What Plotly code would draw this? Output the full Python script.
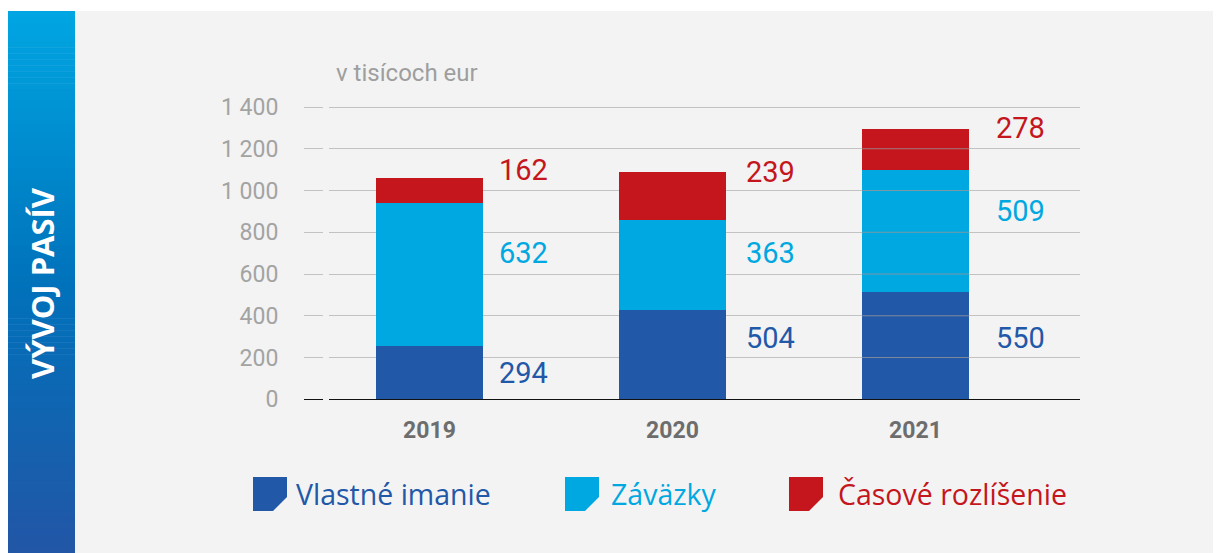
import plotly.graph_objects as go

# ---------------- data ----------------
years = ["2019", "2020", "2021"]
series_names = ["Vlastné imanie", "Záväzky", "Časové rozlíšenie"]
# bar segment heights as drawn (v tisícoch eur)
vlastne_imanie = [255, 428, 514]
zavazky = [685, 431, 584]
casove_rozlisenie = [120, 230, 196]
# value labels printed next to the bars
label_vlastne = ["294", "504", "550"]
label_zavazky = ["632", "363", "509"]
label_casove = ["162", "239", "278"]
y_tick_values = [0, 200, 400, 600, 800, 1000, 1200, 1400]
y_tick_labels = ["0", "200", "400", "600", "800", "1 000", "1 200", "1 400"]
unit_label = "v tisícoch eur"
side_title = "VÝVOJ PASÍV"

# ---------------- styles / layout ----------------
OFF = 8                      # page body margin
W, H = 1221 - OFF, 553 - OFF
BLUE = "#2258A8"
CYAN = "#00A8E1"
RED = "#C4161C"
PANEL = "#F3F3F3"
colors = [BLUE, CYAN, RED]

def px(x):
    return (x - OFF) / W

def py(y):
    return 1 - (y - OFF) / H

# pixel geometry of plot area (page pixels)
plot_left, plot_right = 304, 1080
zero_px, top_px = 399.3, 100
px_per_unit = (399.3 - 107) / 1400.0
ymax = (zero_px - top_px) / px_per_unit
first_center, spacing = 429.5, 243.0
x_lo = (plot_left - first_center) / spacing
x_hi = (plot_right - first_center) / spacing
bar_w = 107 / spacing

# label placement (data-unit y of label centres, pixel x offset from bar centre)
label_y_vlastne = [126, 292, 292]
label_y_zavazky = [700, 700, 903]
label_y_casove = [1097, 1090, 1300]
label_dx = [67, 71, 78]

fig = go.Figure()
for name, vals, col in zip(series_names, [vlastne_imanie, zavazky, casove_rozlisenie], colors):
    fig.add_trace(go.Bar(
        x=years, y=vals, name=name, marker=dict(color=col, line=dict(width=0)),
        width=bar_w, showlegend=False, hoverinfo="x+y+name",
    ))

shapes = []
# panel background
shapes.append(dict(type="rect", xref="paper", yref="paper", x0=px(75), x1=1.0,
                   y0=0, y1=py(11), fillcolor=PANEL, line=dict(width=0), layer="below"))
# sidebar gradient (strips)
stops = [(0.0, (0, 166, 226)), (0.5, (0, 114, 187)), (1.0, (34, 86, 166))]

def grad(t):
    for (t0, c0), (t1, c1) in zip(stops[:-1], stops[1:]):
        if t <= t1:
            f = (t - t0) / (t1 - t0)
            return "rgb(%d,%d,%d)" % tuple(round(a + (b - a) * f) for a, b in zip(c0, c1))
    return "rgb(%d,%d,%d)" % stops[-1][1]

n = 90
top, bot = 11, 553
for i in range(n):
    ya = top + (bot - top) * i / n
    yb = top + (bot - top) * (i + 1) / n
    shapes.append(dict(type="rect", xref="paper", yref="paper", x0=px(8), x1=px(75),
                       y0=max(0, py(yb + 0.6)), y1=py(ya), fillcolor=grad((i + 0.5) / n),
                       line=dict(width=0), layer="below"))
# gap between "tick" and gridline
shapes.append(dict(type="rect", xref="paper", yref="paper", x0=px(323), x1=px(329),
                   y0=py(zero_px + 3), y1=py(top_px), fillcolor=PANEL,
                   line=dict(width=0), layer="above"))
# gridlines visible across the 2021 bar
total_2021 = vlastne_imanie[2] + zavazky[2] + casove_rozlisenie[2]
for v in y_tick_values[1:]:
    if v < total_2021:
        shapes.append(dict(type="line", xref="x", yref="y", x0=2 - bar_w / 2, x1=2 + bar_w / 2,
                           y0=v, y1=v, line=dict(color="rgba(150,150,150,0.8)", width=1),
                           layer="above"))

# legend markers with chamfered corner
legend_x = [253, 565, 789]
legend_text_x = [296, 611, 838]
ly0, ly1, m, cut = 477, 511, 34, 14
for lx, col in zip(legend_x, colors):
    x0, x1 = px(lx), px(lx + m)
    path = "M %f,%f L %f,%f L %f,%f L %f,%f L %f,%f Z" % (
        x0, py(ly0), x1, py(ly0), x1, py(ly1 - cut), px(lx + m - cut), py(ly1), x0, py(ly1))
    shapes.append(dict(type="path", xref="paper", yref="paper", path=path,
                       fillcolor=col, line=dict(width=0), layer="above"))

annotations = []
for lx, name, col in zip(legend_text_x, series_names, colors):
    annotations.append(dict(xref="paper", yref="paper", x=px(lx - 2), y=py(494), text=name,
                            showarrow=False, xanchor="left", yanchor="middle",
                            font=dict(family="Open Sans", size=28.5, color=col)))

# value labels
for i in range(len(years)):
    for lab, ly, col in [(label_vlastne, label_y_vlastne, BLUE),
                         (label_zavazky, label_y_zavazky, CYAN),
                         (label_casove, label_y_casove, RED)]:
        annotations.append(dict(xref="x", yref="y", x=i, y=ly[i], text=lab[i],
                                showarrow=False, xanchor="left", yanchor="middle",
                                xshift=label_dx[i],
                                font=dict(family="Roboto", size=29, color=col)))

annotations.append(dict(xref="paper", yref="paper", x=px(334), y=py(73), text=unit_label,
                        showarrow=False, xanchor="left", yanchor="middle",
                        font=dict(family="Roboto", size=24, color="#9E9E9E")))
annotations.append(dict(xref="paper", yref="paper", x=px(42), y=py(283), text=side_title,
                        showarrow=False, textangle=-90, xanchor="center", yanchor="middle",
                        font=dict(family="Open Sans", size=31, color="white", weight="bold")))

fig.update_layout(
    width=W, height=H, autosize=False,
    margin=dict(l=0, r=0, t=0, b=0, pad=0),
    paper_bgcolor="white", plot_bgcolor="rgba(0,0,0,0)",
    barmode="stack", bargap=0,
    shapes=shapes, annotations=annotations,
    xaxis=dict(domain=[px(plot_left), px(plot_right)], type="category",
               categoryorder="array", categoryarray=years,
               range=[x_lo, x_hi], showgrid=False, zeroline=False, showline=False,
               ticks="outside", ticklen=10, tickcolor="rgba(0,0,0,0)",
               tickfont=dict(family="Roboto", size=23, color="#6D6D6D", weight="bold"),
               automargin=False, fixedrange=True),
    yaxis=dict(domain=[py(zero_px), py(top_px)], range=[0, ymax],
               tickvals=y_tick_values, ticktext=y_tick_labels,
               showgrid=True, gridcolor="#C2C2C2", gridwidth=1,
               zeroline=True, zerolinecolor="#111111", zerolinewidth=1,
               showline=False, ticks="outside", ticklen=20, tickcolor="rgba(0,0,0,0)",
               tickfont=dict(family="Roboto", size=23, color="#A3A3A3"),
               automargin=False, fixedrange=True),
    showlegend=False,
)

fig.write_html("out.html")
